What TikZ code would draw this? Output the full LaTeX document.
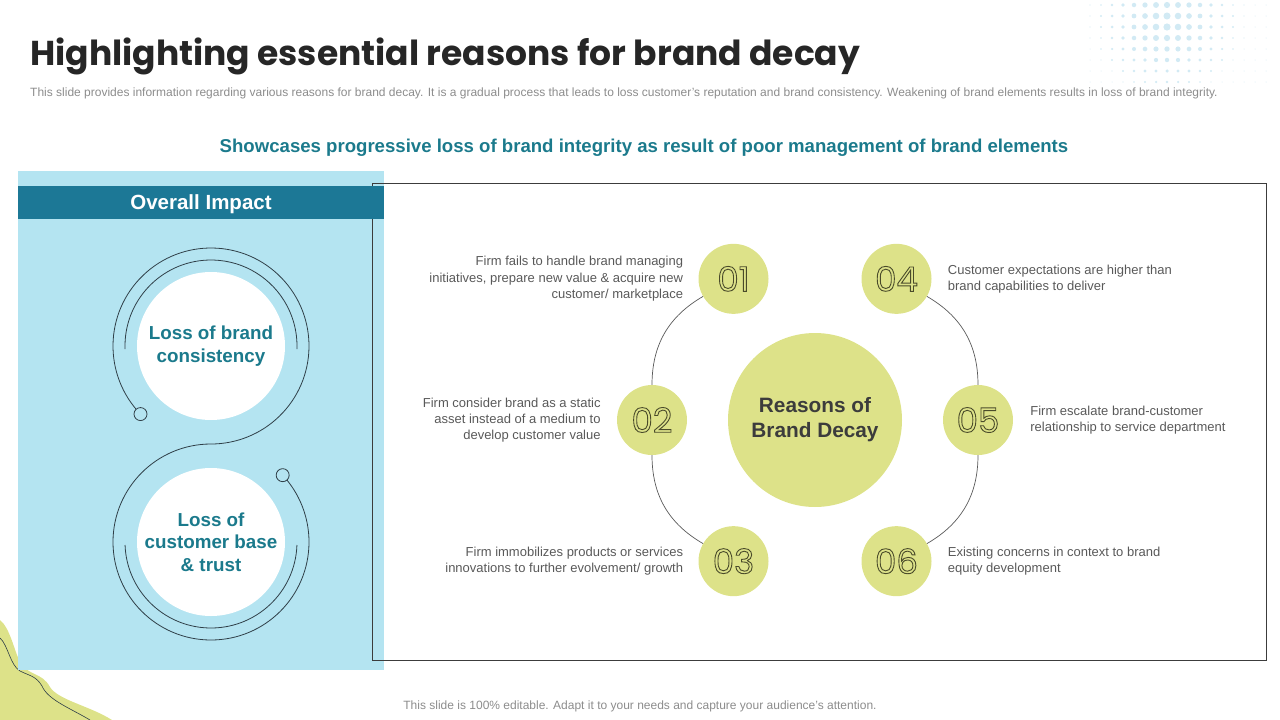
\documentclass[tikz,border=0pt]{standalone}
\usepackage{fontspec}
\setmainfont{Liberation Sans}
\newfontfamily\headfont{Poppins}
\usetikzlibrary{positioning}

\definecolor{panelblue}{HTML}{B4E4F1}
\definecolor{barteal}{HTML}{1C7896}
\definecolor{textteal}{HTML}{1B7A8C}
\definecolor{lime}{HTML}{DDE289}
\definecolor{inkgrey}{HTML}{262626}
\definecolor{notegrey}{HTML}{595959}
\definecolor{softgrey}{HTML}{8C8C8C}
\definecolor{digitink}{HTML}{4A4B2A}
\definecolor{dotblue}{HTML}{D2EAF4}
\definecolor{wire}{HTML}{2F3F48}

\newcommand\outlined[1]{\special{pdf:literal direct 1 Tr 0.9 w}#1\special{pdf:literal direct 0 Tr}}

\begin{document}
\begin{tikzpicture}[x=1pt,y=-1pt]
\tikzstyle{whitedisc} = [circle, fill=white, minimum size=148pt, inner sep=0pt, align=center, text=textteal, font=\bfseries\fontsize{18.8}{22.5}\selectfont]
\tikzstyle{bigdisc} = [circle, fill=lime, minimum size=174pt, inner sep=0pt, align=center, text=inkgrey!90, font=\bfseries\fontsize{20.8}{25}\selectfont]
\tikzstyle{numdisc} = [circle, fill=lime, minimum size=70pt, inner sep=0pt, text=digitink, font=\headfont\fontsize{34}{34}\selectfont]
\tikzstyle{ring} = [draw=notegrey, line width=0.7pt]
\tikzstyle{spiral} = [draw=wire, line width=0.8pt]
\tikzstyle{knob} = [circle, draw=wire, line width=0.8pt, fill=panelblue, minimum size=13pt, inner sep=0pt]
\tikzstyle{note} = [inner sep=0pt, text=notegrey, font=\fontsize{13}{16.3}\selectfont]
\useasboundingbox (0,0) rectangle (1280,720);

% corner decoration
\fill[lime] (0,620) .. controls (10,628) and (14,650) .. (20,662)
	.. controls (28,676) and (42,672) .. (50,687)
	.. controls (58,700) and (90,706) .. (112,720) -- (0,720) -- cycle;
\draw[wire, line width=0.6pt] (0,638) .. controls (8,645) and (10,665) .. (20,671)
	.. controls (30,676) and (36,676) .. (42,686)
	.. controls (48,700) and (70,708) .. (90,720);
\foreach \i in {0,...,16}
	\foreach \j in {0,...,7}
		\fill[dotblue] ({1090+11*\i},{5+11*\j}) circle ({max(0.5,3.8-veclen(11*\i-77,11*\j-17)/24)});

% headings
\node[anchor=base west, inner sep=0pt, text=inkgrey, font=\headfont\bfseries\fontsize{34.5}{34.5}\selectfont] (title) at (30,65) {Highlighting essential reasons for brand decay};
\node[anchor=base west, inner sep=0pt, text=softgrey, font=\fontsize{12}{12}\selectfont] (intro) at (30,96) {This slide provides information regarding various reasons for brand decay. It is a gradual process that leads to loss customer's reputation and brand consistency. Weakening of brand elements results in loss of brand integrity.};
\node[anchor=base, inner sep=0pt, text=textteal, font=\bfseries\fontsize{18.6}{18.6}\selectfont] (showcase) at (644,152) {Showcases progressive loss of brand integrity as result of poor management of brand elements};
\node[anchor=base, inner sep=0pt, text=softgrey, font=\fontsize{12}{12}\selectfont] (footer) at (640,709) {This slide is 100\% editable. Adapt it to your needs and capture your audience's attention.};

% left panel
\fill[panelblue] (18,171) rectangle (384,670);
\draw[draw=inkgrey!90, line width=0.8pt] (372,183) rectangle (1266,660);
\node[fill=barteal, minimum width=366pt, minimum height=33pt, text depth=0pt, text=white, font=\bfseries\fontsize{20.5}{20.5}\selectfont] (impact) at (201,202.5) {Overall Impact};

\node[whitedisc] (loss1) at (211,346) {Loss of brand\\consistency};
\node[whitedisc] (loss2) at (211,542) {Loss of\\customer base\\\& trust};
\draw[spiral] ([shift={(178:86)}]loss1.center) arc[start angle=178, end angle=362, radius=86];
\draw[spiral] ([shift={(2:86)}]loss2.center) arc[start angle=2, end angle=178, radius=86];
\draw[spiral] ([shift={(136:98)}]loss1.center) node[knob] (knobtop) {}
	arc[start angle=136, end angle=450, radius=98]
	arc[start angle=270, end angle=-43, radius=98] node[knob] (knobbottom) {};

% reasons wheel
\node[bigdisc] (reasons) at (815,420) {Reasons of\\Brand Decay};
\node[numdisc] (n01) at ([shift={(240:163)}]reasons.center) {\outlined{01}};
\node[numdisc] (n02) at ([shift={(180:163)}]reasons.center) {\outlined{02}}
	edge[ring, bend left=30] (n01);
\node[numdisc] (n03) at ([shift={(120:163)}]reasons.center) {\outlined{03}}
	edge[ring, bend left=30] (n02);
\node[numdisc] (n04) at ([shift={(300:163)}]reasons.center) {\outlined{04}};
\node[numdisc] (n05) at ([shift={(0:163)}]reasons.center) {\outlined{05}}
	edge[ring, bend right=30] (n04);
\node[numdisc] (n06) at ([shift={(60:163)}]reasons.center) {\outlined{06}}
	edge[ring, bend right=30] (n05);

\node[note, align=right, left=15pt of n01] (t01) {Firm fails to handle brand managing\\initiatives, prepare new value \& acquire new\\customer/ marketplace};
\node[note, align=right, left=16pt of n02] (t02) {Firm consider brand as a static\\asset instead of a medium to\\develop customer value};
\node[note, align=right, left=15pt of n03] (t03) {Firm immobilizes products or services\\innovations to further evolvement/ growth};
\node[note, align=left, right=16pt of n04] (t04) {Customer expectations are higher than\\brand capabilities to deliver};
\node[note, align=left, right=17pt of n05] (t05) {Firm escalate brand-customer\\relationship to service department};
\node[note, align=left, right=16pt of n06] (t06) {Existing concerns in context to brand\\equity development};
\end{tikzpicture}
\end{document}
